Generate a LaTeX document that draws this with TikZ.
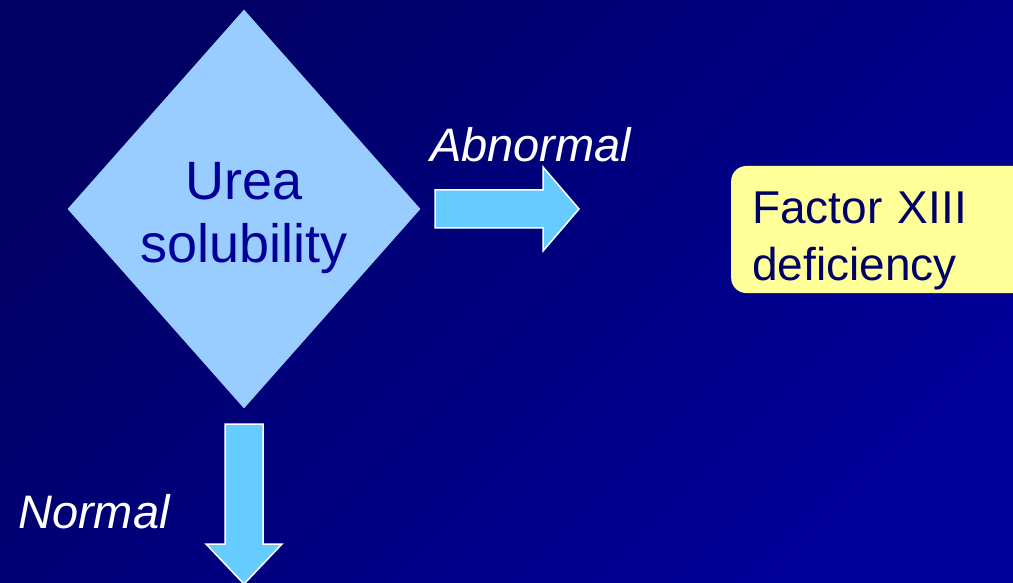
\documentclass[tikz,border=0pt]{standalone}
\usepackage{fontspec}
\setmainfont{Liberation Sans}
\usetikzlibrary{positioning, shapes.geometric, calc}
\definecolor{bgtop}{HTML}{000064}
\definecolor{bgbot}{HTML}{00009A}
\definecolor{ulight}{HTML}{99CCFF}
\definecolor{uarrow}{HTML}{66CCFF}
\definecolor{uyellow}{HTML}{FFFF99}
\definecolor{udark}{HTML}{000099}
\definecolor{unavy}{HTML}{000066}

\begin{document}
\begin{tikzpicture}[x=1pt, y=-1pt,
          dec/.style={diamond, fill=ulight, text=udark, inner sep=0pt, minimum width=353pt, minimum height=399pt, align=center, text height=109pt, text depth=3pt, font=\fontsize{54}{63}\selectfont},
          res/.style={rectangle, fill=uyellow, rounded corners=15pt, text=unavy, text width=260pt, align=left, inner xsep=21pt, inner ysep=0pt, minimum height=127pt, text height=45pt, text depth=58pt, font=\fontsize{46}{58}\selectfont},
          lbl/.style={text=white, inner sep=0pt, font=\fontsize{47}{56}\selectfont\itshape},
          barrow/.style={fill=uarrow, draw=white, line width=1.5pt}]
        \useasboundingbox (0,0) rectangle (1013,583);
        \shade[top color=bgtop, bottom color=bgbot, shading angle=45] (0,0) rectangle (1013,583);
        \node[dec] (urea) at (244,209) {Urea\\solubility};
        \node[res, anchor=west] (fxiii) at (731,229.5) {Factor XIII\\deficiency};
        \coordinate (abn) at (435,209);
        \coordinate (nrm) at (244,424);
        \draw[barrow] ($(abn)+(0,-19)$) -- ++(108,0) -- ++(0,-23) -- ++(36,42) -- ++(-36,42) -- ++(0,-23) -- ++(-108,0) -- cycle;
        \draw[barrow] ($(nrm)+(-19,0)$) -- ++(38,0) -- ++(0,120) -- ++(19,0) -- ++(-38,40) -- ++(-38,-40) -- ++(19,0) -- cycle;
        \node[lbl, anchor=base west] (abnlbl) at (430,162) {Abnormal};
        \node[lbl, anchor=base west] (nrmlbl) at (18,528) {Normal};
      \end{tikzpicture}
\end{document}
